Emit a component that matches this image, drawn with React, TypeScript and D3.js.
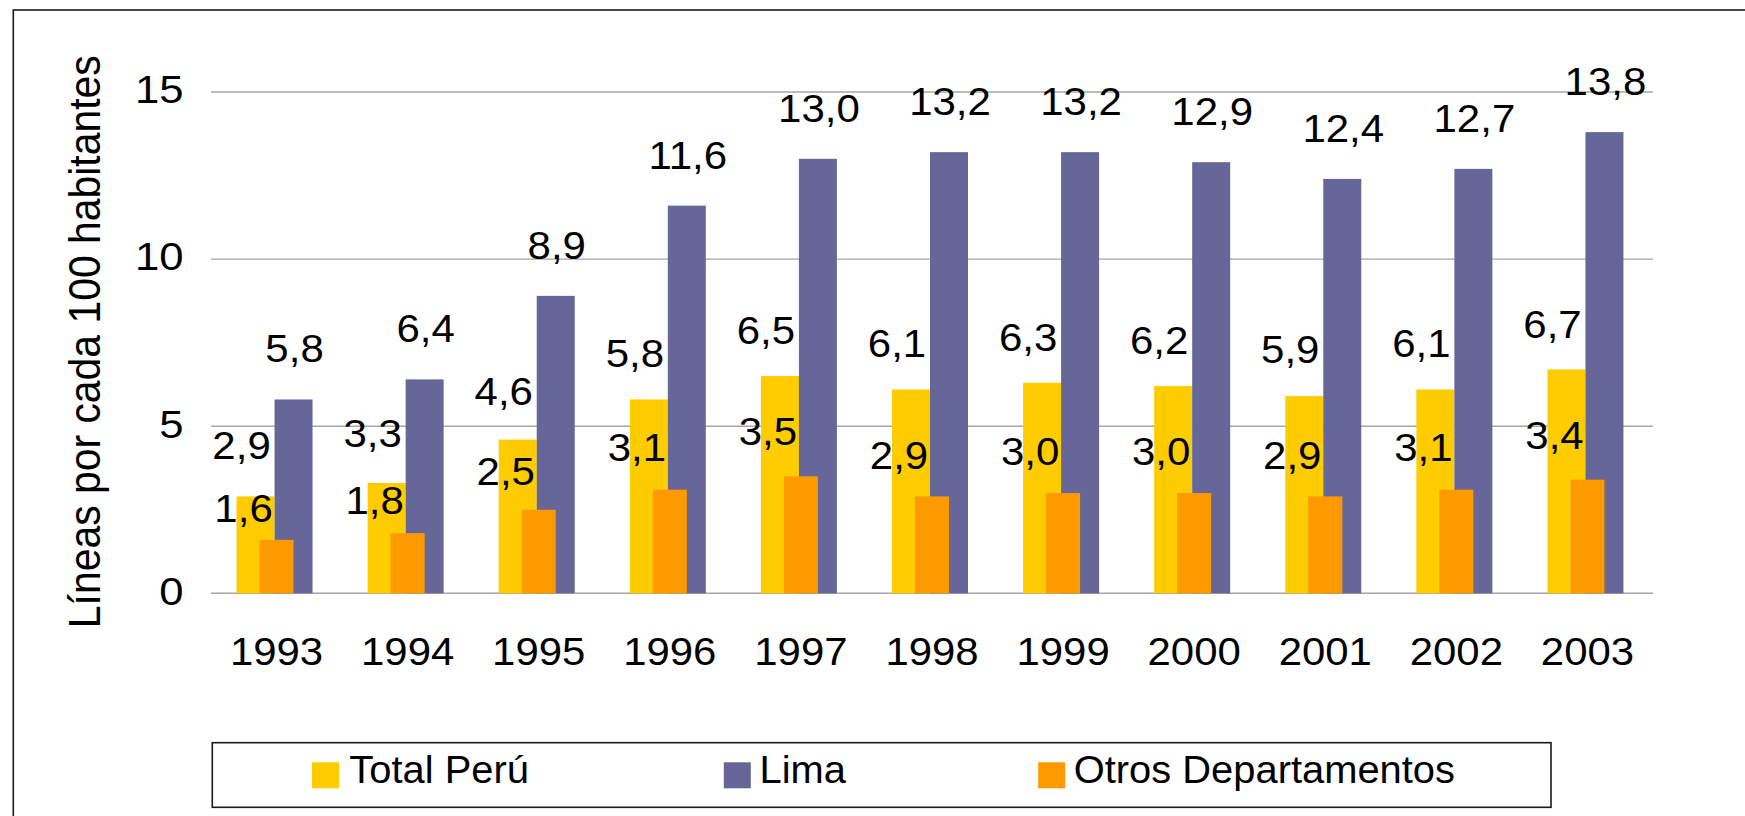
import React from 'react';
import * as d3 from 'd3';

const years = ['1993', '1994', '1995', '1996', '1997', '1998', '1999', '2000', '2001', '2002', '2003'];
const totalPeru = [2.9, 3.3, 4.6, 5.8, 6.5, 6.1, 6.3, 6.2, 5.9, 6.1, 6.7];
const lima = [5.8, 6.4, 8.9, 11.6, 13.0, 13.2, 13.2, 12.9, 12.4, 12.7, 13.8];
const otros = [1.6, 1.8, 2.5, 3.1, 3.5, 2.9, 3.0, 3.0, 2.9, 3.1, 3.4];
const yTicks = [0, 5, 10, 15];
const seriesNames = ['Total Perú', 'Lima', 'Otros Departamentos'];
const yTitle = 'Líneas por cada 100 habitantes';

const COLORS = { total: '#FFCC00', lima: '#666699', otros: '#FF9900' };
const FONT = "'Liberation Sans', Arial, Helvetica, sans-serif";

const W = 1745;
const H = 816;
const plot = { left: 211, right: 1653, bottom: 593.3, top: 92 };

const fmt = (v: number) => v.toFixed(1).replace('.', ',');

function T({ x, y, sx = 1, size = 39, anchor = 'middle', children }: any) {
  return (
    <g transform={`translate(${x},${y}) scale(${sx},1)`}>
      <text x={0} y={0} fontSize={size} fontFamily={FONT} textAnchor={anchor} fill="#000">
        {children}
      </text>
    </g>
  );
}

export default function App() {
  const x = d3.scaleBand<string>().domain(years).range([plot.left, plot.right]).padding(0);
  const y = d3.scaleLinear().domain([0, 15]).range([plot.bottom, plot.top]);
  const bw = x.bandwidth();
  const c = (i: number) => (x(years[i]) as number) + bw / 2;
  // pair (Total, Lima) placed side by side, Otros centred in front
  const pair = d3.scaleBand<string>().domain(['total', 'lima']).range([-40, 36]);
  const pw = pair.bandwidth();
  const otrosW = 34;

  const legendItems = [
    { name: seriesNames[0], color: COLORS.total, sw: 312, tx: 349.3 },
    { name: seriesNames[1], color: COLORS.lima, sw: 723.8, tx: 759.5 },
    { name: seriesNames[2], color: COLORS.otros, sw: 1038.2, tx: 1073.7 },
  ];

  return (
    <svg
      width={W}
      height={H}
      style={{ position: 'absolute', left: 0, top: 0, background: '#fff' }}
    >
      <rect x={0} y={0} width={W} height={H} fill="#fff" />
      {/* outer frame */}
      <rect x={13.3} y={10} width={W + 20} height={H + 20} fill="none" stroke="#1a1a1a" strokeWidth={1.6} />

      {/* gridlines */}
      {yTicks.map((t) => (
        <line key={t} x1={plot.left} x2={plot.right} y1={y(t)} y2={y(t)} stroke="#a6a6a6" strokeWidth={1.4} />
      ))}

      {/* tick labels */}
      {yTicks.map((t) => (
        <T key={t} x={183.5} y={y(t) + 11.3} sx={1.12} anchor="end">
          {t}
        </T>
      ))}

      {/* y title */}
      <g transform={`translate(99.5,341.7) rotate(-90) scale(1,1.066)`}>
        <text x={0} y={0} fontSize={40.9} fontFamily={FONT} textAnchor="middle" fill="#000">
          {yTitle}
        </text>
      </g>

      {/* bars */}
      {years.map((yr, i) => (
        <g key={yr}>
          <rect x={c(i) + (pair('total') as number)} y={y(totalPeru[i])} width={pw} height={y(0) - y(totalPeru[i])} fill={COLORS.total} />
          <rect x={c(i) + (pair('lima') as number)} y={y(lima[i])} width={pw} height={y(0) - y(lima[i])} fill={COLORS.lima} />
          <rect x={c(i) - otrosW / 2} y={y(otros[i])} width={otrosW} height={y(0) - y(otros[i])} fill={COLORS.otros} />
        </g>
      ))}

      {/* data labels */}
      {years.map((yr, i) => (
        <g key={'l' + yr}>
          <T x={c(i) + 18} y={y(lima[i]) - 37} sx={1.077}>{fmt(lima[i])}</T>
          <T x={c(i) - 35} y={y(totalPeru[i]) - (41 - 1.39 * totalPeru[i])} sx={1.077}>{fmt(totalPeru[i])}</T>
          <T x={c(i) - 33} y={y(otros[i]) - (6.6 + 7.08 * otros[i])} sx={1.077}>{fmt(otros[i])}</T>
        </g>
      ))}

      {/* x labels */}
      {years.map((yr, i) => (
        <T key={'x' + yr} x={c(i)} y={664.5} sx={1.075}>
          {yr}
        </T>
      ))}

      {/* legend */}
      <rect x={212.3} y={742.7} width={1551 - 212.3} height={807.3 - 742.7} fill="#fff" stroke="#1a1a1a" strokeWidth={1.6} />
      {legendItems.map((it) => (
        <g key={it.name}>
          <rect x={it.sw} y={762.3} width={27} height={26} fill={it.color} />
          <T x={it.tx} y={783.3} sx={1.01} size={39.5} anchor="start">
            {it.name}
          </T>
        </g>
      ))}
    </svg>
  );
}
